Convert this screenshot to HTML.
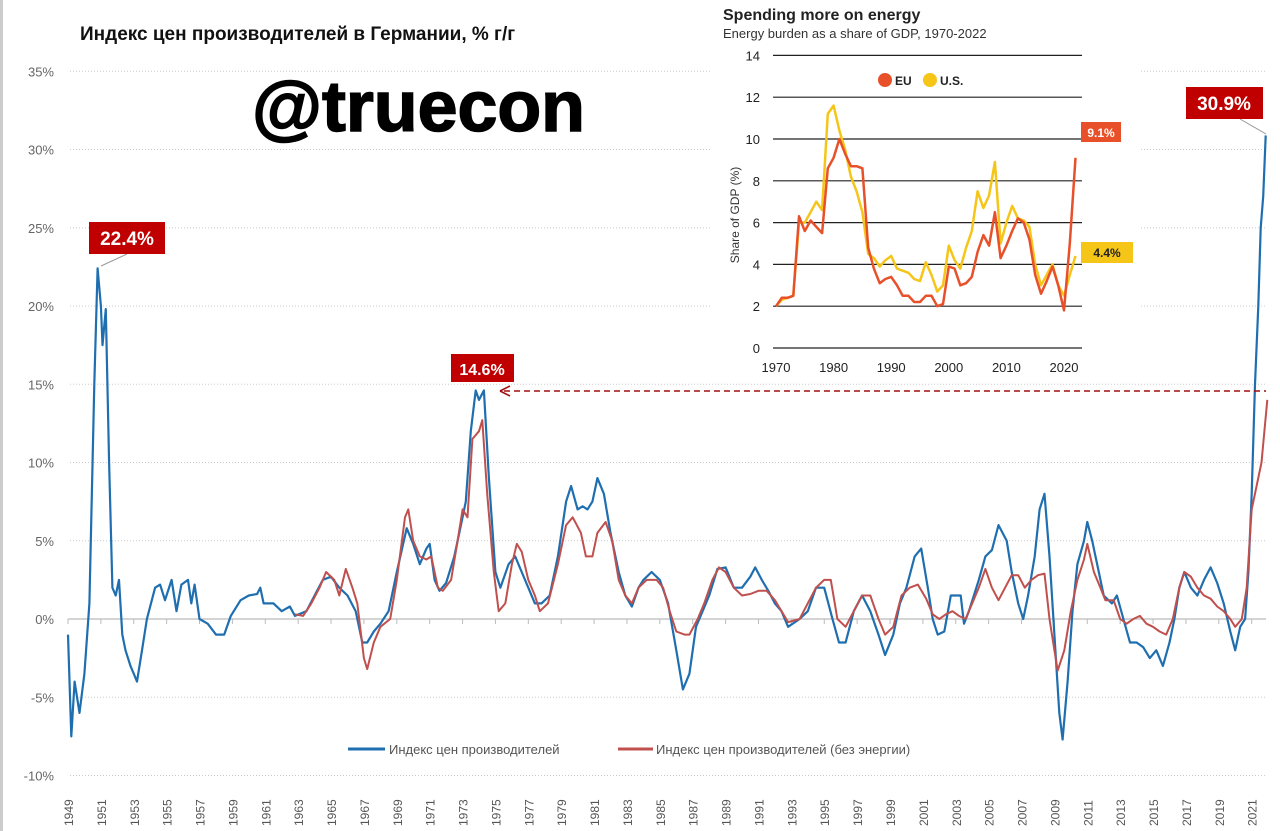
<!DOCTYPE html>
<html><head><meta charset="utf-8"><style>
body{margin:0;background:#fff;width:1280px;height:831px;overflow:hidden;font-family:"Liberation Sans",sans-serif}
</style></head><body>
<svg id="s" width="1280" height="831" xmlns="http://www.w3.org/2000/svg" style="position:absolute;left:0;top:0">
<rect x="0" y="0" width="3" height="831" fill="#ccc"/>
<g id="grid"></g>
<text x="80" y="40" font-size="19" font-weight="bold" fill="#111">Индекс цен производителей в Германии, % г/г</text>
<text x="252" y="131" font-size="71" font-weight="bold" fill="#000" stroke="#000" stroke-width="1.5" textLength="333" lengthAdjust="spacingAndGlyphs">@truecon</text>
<g id="series"></g>
<line x1="504" y1="391" x2="1266" y2="391" stroke="#a01010" stroke-width="1.6" stroke-dasharray="6,4"/>
<path d="M500 391 L510 386 M500 391 L510 396" stroke="#a01010" stroke-width="1.6" fill="none"/>
<line x1="127" y1="254" x2="101" y2="266" stroke="#999" stroke-width="1"/>
<rect x="89" y="222" width="76" height="32" fill="#c00000"/>
<text x="127" y="245" font-size="19" font-weight="bold" fill="#fff" text-anchor="middle">22.4%</text>
<rect x="451" y="354" width="63" height="28" fill="#c00000"/>
<text x="482" y="375" font-size="16" font-weight="bold" fill="#fff" text-anchor="middle">14.6%</text>
<line x1="1240" y1="119" x2="1266" y2="134" stroke="#999" stroke-width="1"/>
<rect x="1186" y="87" width="77" height="32" fill="#c00000"/>
<text x="1224" y="110" font-size="19" font-weight="bold" fill="#fff" text-anchor="middle">30.9%</text>
<line x1="348" y1="749" x2="385" y2="749" stroke="#1f6fb0" stroke-width="3"/>
<text x="389" y="754" font-size="13" fill="#555">Индекс цен производителей</text>
<line x1="618" y1="749" x2="653" y2="749" stroke="#c0504d" stroke-width="3"/>
<text x="656" y="754" font-size="13" fill="#555">Индекс цен производителей (без энергии)</text>
<rect x="710" y="0" width="430" height="378" fill="#fff"/>
<text x="723" y="20" font-size="16" font-weight="bold" fill="#222">Spending more on energy</text>
<text x="723" y="38" font-size="13" fill="#333">Energy burden as a share of GDP, 1970-2022</text>
<g id="inset"></g>
<circle cx="885" cy="80" r="7" fill="#e8502a"/><text x="895" y="85" font-size="12" font-weight="bold" fill="#222">EU</text>
<circle cx="930" cy="80" r="7" fill="#f5c518"/><text x="940" y="85" font-size="12" font-weight="bold" fill="#222">U.S.</text>
<rect x="1081" y="122" width="40" height="20" fill="#e8502a"/><text x="1101" y="137" font-size="12" font-weight="bold" fill="#fff" text-anchor="middle">9.1%</text>
<rect x="1081" y="242" width="52" height="21" fill="#f5c518"/><text x="1107" y="257" font-size="12" font-weight="bold" fill="#222" text-anchor="middle">4.4%</text>
<text transform="translate(739,215) rotate(-90)" font-size="12" fill="#333" text-anchor="middle">Share of GDP (%)</text>
</svg>
<script>
const NS="http://www.w3.org/2000/svg";
function el(p,t,a,txt){const e=document.createElementNS(NS,t);for(const k in a)e.setAttribute(k,a[k]);if(txt!==undefined)e.textContent=txt;p.appendChild(e);return e;}
const X=y=>68+(y-1949)*16.44, Y=v=>619-v*15.65;
const g=document.getElementById('grid');
for(let v=35;v>=-10;v-=5){
 if(v!==0)el(g,'line',{x1:70,x2:1266,y1:Y(v),y2:Y(v),stroke:'#ccc','stroke-width':1,'stroke-dasharray':'1,2'});
 el(g,'text',{x:54,y:Y(v)+5,'font-size':13,fill:'#666','text-anchor':'end'},v+'%');
}
el(g,'line',{x1:68,x2:1266,y1:Y(0),y2:Y(0),stroke:'#bbb','stroke-width':1.3});
for(let yr=1949;yr<=2021;yr+=2){
 el(g,'line',{x1:X(yr),x2:X(yr),y1:619,y2:624,stroke:'#bbb'});
 el(g,'text',{transform:`translate(${X(yr)+5},${826}) rotate(-90)`,'font-size':12,fill:'#555'},yr);
}
const blue=[1949,-1,1949.2,-7.5,1949.4,-4,1949.7,-6,1950,-3.5,1950.3,1,1950.6,15,1950.8,22.4,1951,20,1951.1,17.5,1951.3,19.8,1951.5,10,1951.7,2,1951.9,1.5,1952.1,2.5,1952.3,-1,1952.5,-2,1952.8,-3,1953,-3.5,1953.2,-4,1953.5,-2,1953.8,0,1954.3,2,1954.6,2.2,1954.9,1.2,1955.3,2.5,1955.6,0.5,1955.9,2.2,1956.3,2.5,1956.5,1,1956.7,2.2,1957,0,1957.5,-0.3,1958,-1,1958.5,-1,1958.9,0.2,1959.5,1.2,1960,1.5,1960.5,1.6,1960.7,2,1960.9,1,1961.5,1,1962,0.5,1962.5,0.8,1962.8,0.2,1963.5,0.5,1964,1.5,1964.5,2.5,1965,2.7,1965.5,2,1966,1.5,1966.5,0.5,1966.9,-1.5,1967.2,-1.5,1967.6,-0.8,1968,-0.3,1968.5,0.5,1969,3,1969.6,5.8,1970,4.8,1970.4,3.5,1970.8,4.5,1971,4.8,1971.3,2.5,1971.6,1.8,1972,2.3,1972.5,4,1972.8,5.5,1973.2,7.5,1973.5,12,1973.8,14.6,1974,14,1974.3,14.6,1974.6,9,1975,3,1975.3,2,1975.8,3.5,1976.2,4,1976.6,3,1977,2,1977.4,1,1977.8,1,1978.3,1.5,1978.8,4,1979.3,7.5,1979.6,8.5,1980,7,1980.3,7.2,1980.6,7,1980.9,7.5,1981.2,9,1981.6,8,1982,5.5,1982.5,3,1982.9,1.5,1983.3,0.8,1983.7,2,1984,2.5,1984.5,3,1985,2.5,1985.5,1,1986,-2,1986.4,-4.5,1986.8,-3.5,1987.2,-0.5,1987.6,0.5,1988,1.5,1988.5,3.2,1989,3.3,1989.5,2,1990,2,1990.5,2.7,1990.8,3.3,1991.2,2.5,1991.6,1.8,1992,1,1992.4,0.5,1992.8,-0.5,1993.5,0,1994,0.5,1994.5,2,1995,2,1995.5,0,1995.9,-1.5,1996.3,-1.5,1996.8,0.5,1997.3,1.5,1997.8,0.5,1998.3,-1,1998.7,-2.3,1999.2,-1,1999.6,1,2000,2,2000.5,4,2000.9,4.5,2001.3,2,2001.6,0,2001.9,-1,2002.3,-0.8,2002.7,1.5,2003,1.5,2003.3,1.5,2003.5,-0.3,2003.8,0.5,2004.4,2.5,2004.8,4,2005.2,4.4,2005.6,6,2006.1,5,2006.4,3,2006.8,1,2007.1,0,2007.4,1.5,2007.8,4,2008.1,7,2008.4,8,2008.7,4,2009,-1,2009.3,-6,2009.5,-7.7,2009.8,-4,2010.1,0.5,2010.4,3.5,2010.8,5,2011,6.2,2011.3,5,2011.7,3,2012,1.5,2012.5,1,2012.8,1.5,2013.2,0,2013.6,-1.5,2014,-1.5,2014.4,-1.8,2014.8,-2.5,2015.2,-2,2015.6,-3,2016,-1.5,2016.3,0,2016.6,2,2016.9,3,2017.3,2,2017.7,1.5,2018.1,2.5,2018.5,3.3,2018.9,2.3,2019.3,1,2019.7,-0.8,2020,-2,2020.3,-0.5,2020.6,0,2020.8,3,2021,8,2021.2,15,2021.4,20,2021.55,25,2021.7,27,2021.85,30.9];
const red=[1962.8,0.3,1963.3,0.2,1963.8,1,1964.3,2,1964.7,3,1965.2,2.5,1965.5,1.5,1965.9,3.2,1966.3,2,1966.6,1,1967,-2.5,1967.2,-3.2,1967.6,-1.5,1968,-0.5,1968.6,0,1969,2.5,1969.5,6.5,1969.7,7,1970,5,1970.4,4,1970.8,3.8,1971.1,4,1971.5,2,1971.8,1.8,1972.3,2.5,1972.7,5,1973,7,1973.3,6.5,1973.6,11.5,1974,12,1974.2,12.7,1974.5,8,1974.9,3,1975.2,0.5,1975.6,1,1976,3.5,1976.3,4.8,1976.6,4.3,1977,2.5,1977.4,1.5,1977.7,0.5,1978.2,1,1978.8,3.5,1979.3,6,1979.7,6.5,1980.2,5.5,1980.5,4,1980.9,4,1981.2,5.5,1981.7,6.2,1982.1,5,1982.5,2.5,1982.9,1.5,1983.3,1,1983.7,2,1984.2,2.5,1984.8,2.5,1985.2,2,1985.6,0.5,1986,-0.8,1986.5,-1,1986.8,-1,1987.3,0,1987.7,1,1988.2,2.5,1988.6,3.3,1989,3,1989.5,2,1990,1.5,1990.5,1.6,1991,1.8,1991.5,1.8,1992,1.2,1992.4,0.5,1992.8,-0.2,1993.5,0,1994,1,1994.5,2,1995,2.5,1995.4,2.5,1995.8,0,1996.3,-0.5,1996.8,0.5,1997.3,1.5,1997.8,1.5,1998.3,0,1998.7,-1,1999.2,-0.5,1999.7,1.5,2000.2,2,2000.7,2.2,2001.2,1.3,2001.6,0.3,2002,0,2002.4,0.3,2002.8,0.5,2003.2,0.2,2003.6,0,2004,1,2004.4,2,2004.8,3.2,2005.2,2,2005.6,1.2,2006,2,2006.4,2.8,2006.8,2.8,2007.2,2,2007.6,2.5,2008,2.8,2008.4,2.9,2008.7,0,2009,-2,2009.2,-3.3,2009.6,-2,2010,0.5,2010.4,2.5,2010.8,3.8,2011,4.8,2011.4,3,2011.8,2,2012.1,1.2,2012.6,1.2,2013,0,2013.4,-0.3,2013.8,0,2014.2,0.2,2014.6,-0.3,2015,-0.5,2015.4,-0.8,2015.8,-1,2016.2,0,2016.6,2,2016.9,3,2017.3,2.7,2017.7,2,2018.1,1.5,2018.5,1.3,2018.9,0.8,2019.3,0.5,2019.7,0,2020,-0.5,2020.4,0,2020.7,2,2021,7,2021.3,8.5,2021.6,10,2021.95,14];
function path(arr,fx,fy){let d='';for(let i=0;i<arr.length;i+=2)d+=(i?'L':'M')+fx(arr[i]).toFixed(1)+' '+fy(arr[i+1]).toFixed(1);return d;}
const s=document.getElementById('series');
el(s,'path',{d:path(blue,X,Y),stroke:'#1f6fb0','stroke-width':2.2,fill:'none','stroke-linejoin':'round'});
el(s,'path',{d:path(red,X,Y),stroke:'#c0504d','stroke-width':2,fill:'none','stroke-linejoin':'round'});
const ix=y=>776+(y-1970)*5.76, iy=v=>348-v*20.9;
const ins=document.getElementById('inset');
for(let v=0;v<=14;v+=2){
 el(ins,'line',{x1:773,x2:1082,y1:iy(v),y2:iy(v),stroke:'#222','stroke-width':1.2});
 el(ins,'text',{x:760,y:iy(v)+5,'font-size':13,fill:'#222','text-anchor':'end'},v);
}
for(let yr=1970;yr<=2020;yr+=10)el(ins,'text',{x:ix(yr),y:372,'font-size':13,fill:'#222','text-anchor':'middle'},yr);
const eu=[2,2.4,2.4,2.5,6.3,5.6,6.1,5.8,5.5,8.6,9.1,10,9.3,8.7,8.7,8.6,4.8,3.8,3.1,3.3,3.4,3,2.5,2.5,2.2,2.2,2.5,2.5,2,2.1,3.9,3.8,3,3.1,3.4,4.6,5.4,4.9,6.5,4.3,4.9,5.6,6.2,6,5.2,3.5,2.6,3.2,3.9,3,1.8,5,9.1];
const us=[2,2.3,2.4,2.5,6,6,6.5,7,6.6,11.2,11.6,10.4,9.5,8.2,7.5,6.5,4.5,4.3,3.9,4.2,4.4,3.8,3.7,3.6,3.3,3.2,4.1,3.5,2.7,3,4.9,4.2,3.8,4.8,5.6,7.5,6.7,7.3,8.9,5,6,6.8,6.2,6.1,5.8,4,3,3.5,4,3,2.5,3.5,4.4];
const ser=a=>{const r=[];a.forEach((v,i)=>r.push(1970+i,v));return r;};
el(ins,'path',{d:path(ser(us),ix,iy),stroke:'#f5c518','stroke-width':2.5,fill:'none','stroke-linejoin':'round'});
el(ins,'path',{d:path(ser(eu),ix,iy),stroke:'#e8502a','stroke-width':2.5,fill:'none','stroke-linejoin':'round'});
</script>
</body></html>
